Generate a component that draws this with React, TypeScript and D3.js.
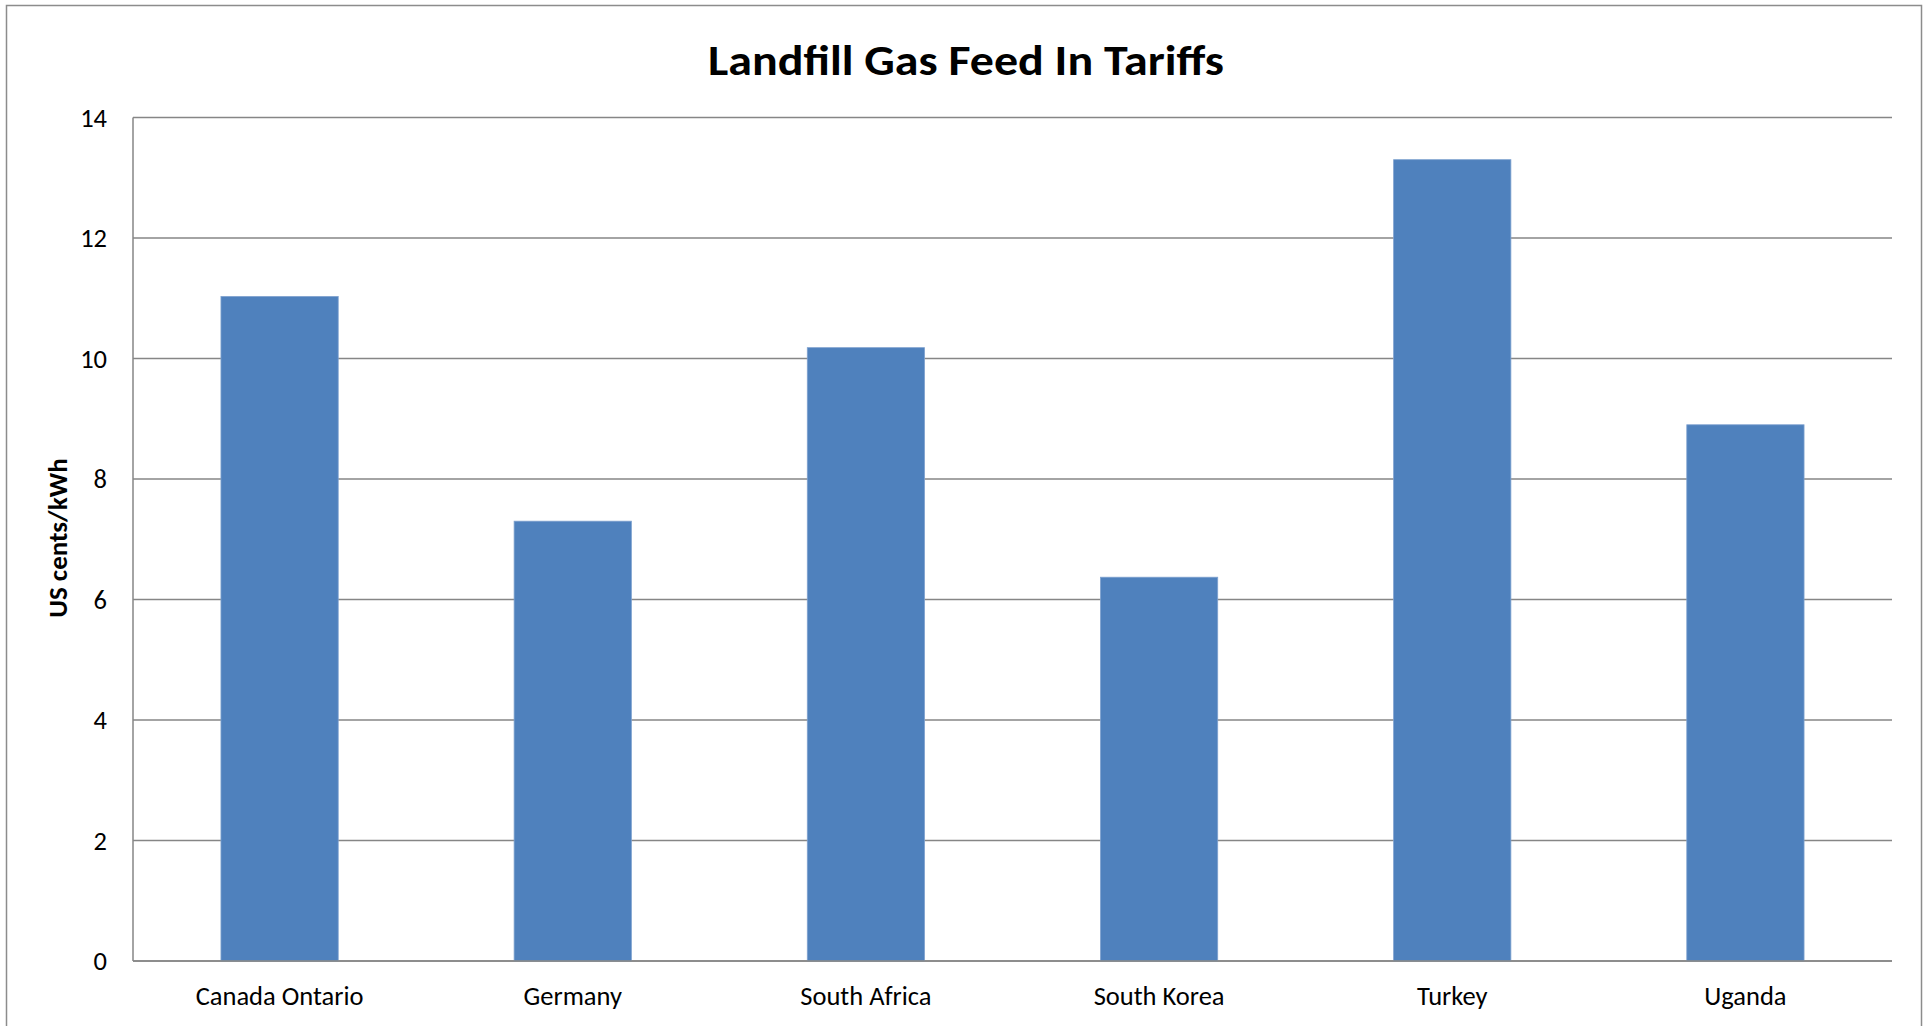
import React from "react";
import * as d3 from "d3";

const categories: string[] = ["Canada Ontario", "Germany", "South Africa", "South Korea", "Turkey", "Uganda"];
const values: number[] = [11.03, 7.3, 10.18, 6.37, 13.3, 8.9];
const yTicks: number[] = [0, 2, 4, 6, 8, 10, 12, 14];
const title = "Landfill Gas Feed In Tariffs";
const yLabel = "US cents/kWh";

const W = 1929;
const H = 1026;
const plot = { left: 133, right: 1892, top: 117.5, bottom: 961 };
const FONT = "Carlito, Calibri, Lato, 'Open Sans', sans-serif";

export default function App() {
  const x = d3.scaleBand<string>().domain(categories).range([plot.left, plot.right]).padding(0);
  const y = d3.scaleLinear().domain([0, 14]).range([plot.bottom, plot.top]);
  const bw = x.bandwidth() * 0.4;
  return (
    <svg width={W} height={H} style={{ position: "absolute", left: 0, top: 0, background: "#fff" }}>
      <rect x={6.5} y={5.5} width={1915} height={1040} fill="#fff" stroke="#8c8c8c" strokeWidth={1.5} />
      <text x={966} y={75} textAnchor="middle" fontFamily={FONT} fontWeight="bold" fontSize={42}
        textLength={516} lengthAdjust="spacingAndGlyphs" fill="#000">{title}</text>
      {yTicks.map((t) => (
        <g key={t}>
          <line x1={plot.left} x2={plot.right} y1={y(t)} y2={y(t)} stroke="#868686" strokeWidth={1.5} />
          <text x={107} y={y(t)} dy="0.34em" textAnchor="end" fontFamily={FONT} fontSize={26.5} fill="#000">{t}</text>
        </g>
      ))}
      <line x1={plot.left} x2={plot.left} y1={plot.top} y2={plot.bottom} stroke="#868686" strokeWidth={1.5} />
      {categories.map((c, i) => {
        const cx = (x(c) as number) + x.bandwidth() / 2;
        return (
          <g key={c}>
            <rect x={cx - bw / 2} y={y(values[i])} width={bw} height={y(0) - y(values[i])}
              fill="#4F81BD" stroke="#7fa2cf" strokeWidth={0.8} />
            <text x={cx} y={1005} textAnchor="middle" fontFamily={FONT} fontSize={26.5} fill="#000">{c}</text>
          </g>
        );
      })}
      <line x1={plot.left} x2={plot.right} y1={plot.bottom} y2={plot.bottom} stroke="#868686" strokeWidth={1.5} />
      <text transform={`translate(67,538) rotate(-90)`} textAnchor="middle" fontFamily={FONT} fontWeight="bold"
        fontSize={27} fill="#000">{yLabel}</text>
    </svg>
  );
}
